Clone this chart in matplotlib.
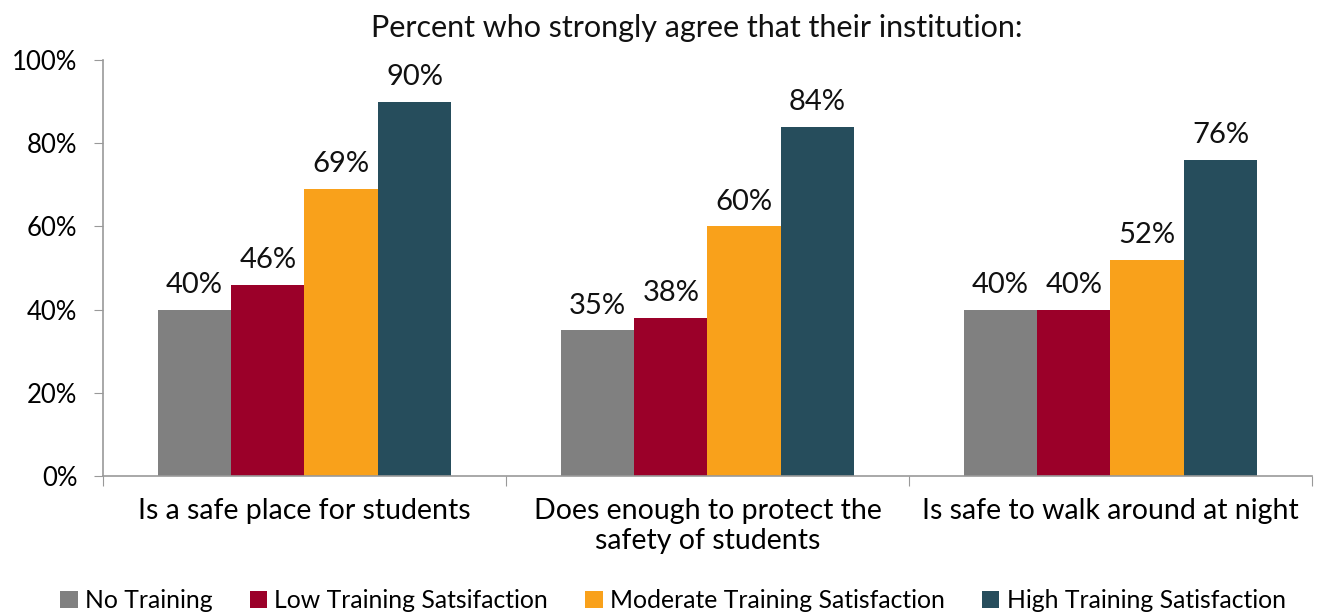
import matplotlib
matplotlib.use("Agg")
import matplotlib.pyplot as plt
from matplotlib.patches import Patch
import numpy as np

plt.rcParams['font.family'] = ['Lato', 'DejaVu Sans']

categories = ["Is a safe place for students",
              "Does enough to protect the\nsafety of students",
              "Is safe to walk around at night"]
series_names = ["No Training", "Low Training Satsifaction",
                "Moderate Training Satisfaction", "High Training Satisfaction"]
no_training = [40, 35, 40]
low_sat = [46, 38, 40]
moderate_sat = [69, 60, 52]
high_sat = [90, 84, 76]
y_ticks = [0, 20, 40, 60, 80, 100]

series_values = [no_training, low_sat, moderate_sat, high_sat]
colors = ["#808080", "#9B0029", "#F9A11B", "#264D5C"]

fig = plt.figure(figsize=(13.17, 6.14), dpi=100)
ax = fig.add_axes([0.0782, 0.2248, 0.918, 0.6775])

x = np.arange(len(categories))
bw = 0.182
for i, (vals, col) in enumerate(zip(series_values, colors)):
    offs = (i - 1.5) * bw
    bars = ax.bar(x + offs, vals, width=bw, color=col, edgecolor='none')
    for b, v in zip(bars, vals):
        ax.text(b.get_x() + b.get_width() / 2, v + 2.8, f"{v}%",
                ha='center', va='bottom', fontsize=21, color='#111111')

ax.set_xlim(-0.5, len(categories) - 0.5)
ax.set_ylim(0, 100)
ax.set_yticks(y_ticks)
ax.set_yticklabels([f"{t}%" for t in y_ticks], fontsize=18.5)
ax.set_xticks(np.arange(-0.5, len(categories), 1.0))
ax.set_xticklabels([])
ax.set_xticks(x, minor=True)
ax.set_xticklabels(categories, minor=True, fontsize=20.5, linespacing=1.2)
ax.tick_params(axis='x', which='minor', length=0, pad=16)
ax.tick_params(axis='x', which='major', length=7, color='#999999', direction='out')
ax.tick_params(axis='y', length=6.5, color='#999999', pad=12)

for s in ['top', 'right']:
    ax.spines[s].set_visible(False)
for s in ['left', 'bottom']:
    ax.spines[s].set_color('#999999')
    ax.spines[s].set_linewidth(1.2)

fig.text(0.529, 0.955, "Percent who strongly agree that their institution:",
         ha='center', va='center', fontsize=22, color='#111111')

handles = [Patch(facecolor=c, edgecolor='none') for c in colors]
fig.legend(handles, series_names, loc='center', bbox_to_anchor=(0.511, 0.022),
           ncol=4, frameon=False, fontsize=17.8, handlelength=0.7, handleheight=0.7,
           handletextpad=0.3, columnspacing=1.5)

fig.savefig("out.png", dpi=100)
